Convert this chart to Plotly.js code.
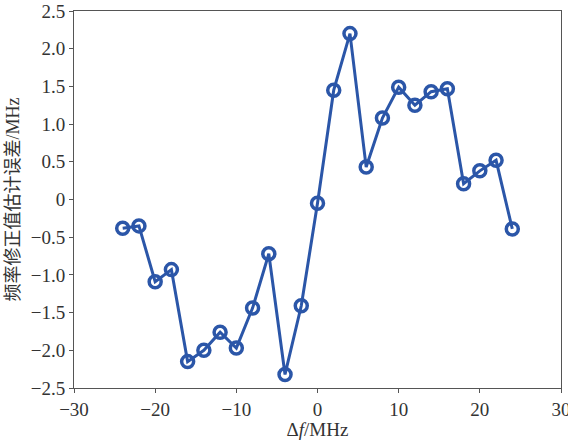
<!DOCTYPE html>
<html><head><meta charset="utf-8">
<script src="https://cdn.plot.ly/plotly-3.0.1.min.js"></script>
<style>html,body{margin:0;padding:0;background:#fff}</style>
</head><body><div id="chart" style="width:568px;height:440px"></div>
<script>
const deltaF = [-24,-22,-20,-18,-16,-14,-12,-10,-8,-6,-4,-2,0,2,4,6,8,10,12,14,16,18,20,22,24];
const errorMHz = [-0.38,-0.35,-1.09,-0.93,-2.15,-2.0,-1.76,-1.97,-1.44,-0.72,-2.32,-1.41,-0.05,1.45,2.20,0.43,1.08,1.49,1.25,1.43,1.47,0.21,0.38,0.52,-0.39];
const xTickVals = [-30,-20,-10,0,10,20,30];
const xTickText = ['\u221230','\u221220','\u221210','0','10','20','30'];
const yTickVals = [-2.5,-2,-1.5,-1,-0.5,0,0.5,1,1.5,2,2.5];
const yTickText = ['\u22122.5','\u22122.0','\u22121.5','\u22121.0','\u22120.5','0','0.5','1.0','1.5','2.0','2.5'];
const col = '#2b56a8';
const fontFam = 'Liberation Serif';
const cjkFam = 'Liberation Serif, Noto Sans CJK SC';
Plotly.newPlot('chart', [{
  x: deltaF, y: errorMHz, type: 'scatter', mode: 'lines+markers',
  line: {color: col, width: 3},
  marker: {symbol: 'circle-open', size: 12, color: col, line: {color: col, width: 3.5}}
}], {
  width: 568, height: 440,
  margin: {l: 74, r: 7, t: 11, b: 52},
  paper_bgcolor: '#fff', plot_bgcolor: '#fff',
  showlegend: false,
  font: {family: fontFam, size: 18, color: '#333'},
  xaxis: {range: [-30, 30], tickvals: xTickVals, ticktext: xTickText, ticklabeloverflow: 'allow',
    ticks: 'outside', ticklen: 4, tickcolor: '#555', showgrid: false, zeroline: false,
    showline: true, linecolor: '#555', linewidth: 1, mirror: true,
    tickfont: {family: fontFam, size: 19, color: '#333'},
    title: {text: '\u0394<i>f</i>/MHz', font: {family: fontFam, size: 19, color: '#333'}, standoff: 4}},
  yaxis: {range: [-2.5, 2.5], tickvals: yTickVals, ticktext: yTickText,
    ticks: 'outside', ticklen: 4, tickcolor: '#555', showgrid: false, zeroline: false,
    showline: true, linecolor: '#555', linewidth: 1, mirror: true,
    tickfont: {family: fontFam, size: 19, color: '#333'},
    title: {text: '频率修正值估计误差/MHz', font: {family: cjkFam, size: 18, color: '#333'}, standoff: 6}}
}, {displayModeBar: false, staticPlot: true});
</script></body></html>
